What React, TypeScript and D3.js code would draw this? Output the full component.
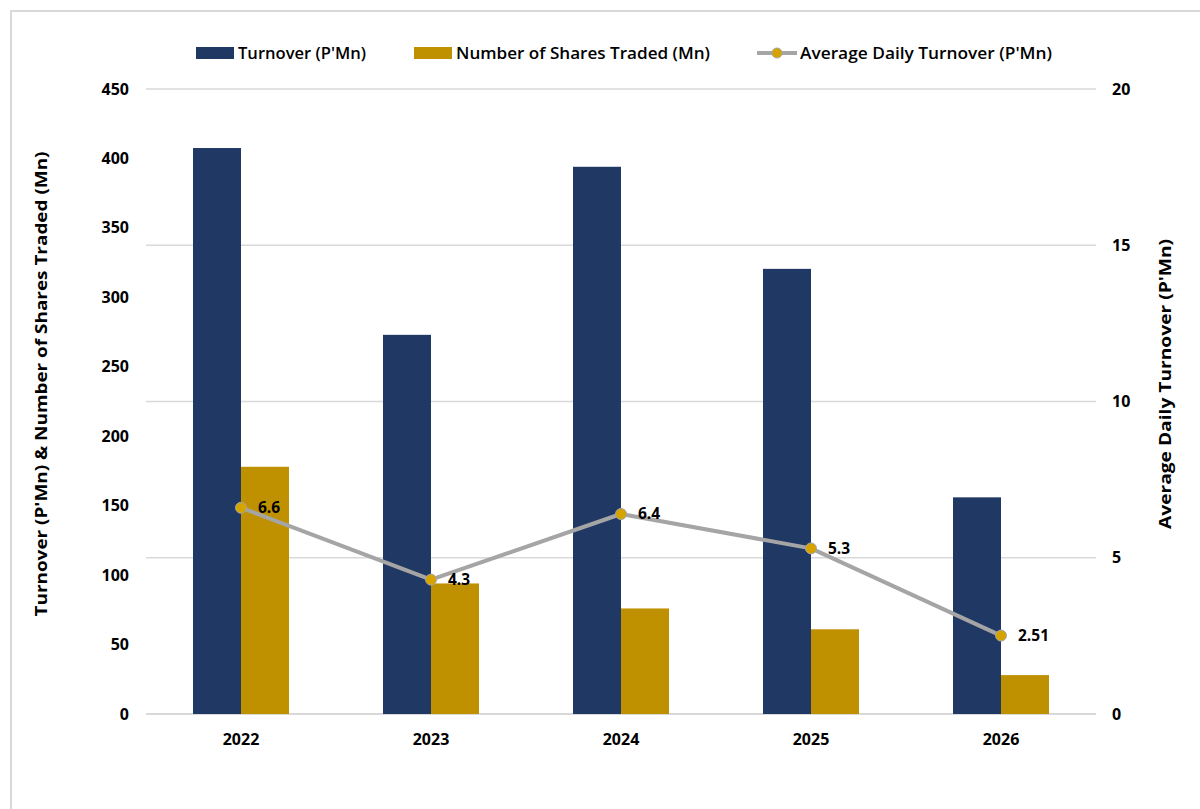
import React from 'react';
import * as d3 from 'd3';

const years = ['2022', '2023', '2024', '2025', '2026'];
const turnover = [407.5, 273, 394, 320.5, 156];
const sharesTraded = [178, 94, 76, 61, 28];
const avgDaily = [6.6, 4.3, 6.4, 5.3, 2.51];
const avgLabels = ['6.6', '4.3', '6.4', '5.3', '2.51'];
const leftTicks = [0, 50, 100, 150, 200, 250, 300, 350, 400, 450];
const rightTicks = [0, 5, 10, 15, 20];

const W = 1200,
  H = 809,
  left = 146,
  right = 1096,
  top = 89,
  bottom = 714;

const NAVY = '#203864',
  GOLD = '#BF9000',
  LINE = '#A5A5A5',
  DOT = '#D6A400',
  GRID = '#D9D9D9',
  FONT = '"Open Sans", Lato, sans-serif';

const x = d3.scaleBand().domain(years).range([left, right]);
const yL = d3.scaleLinear().domain([0, 450]).range([bottom, top]);
const yR = d3.scaleLinear().domain([0, 20]).range([bottom, top]);
const barW = 48;

const line = d3
  .line<number>()
  .x((_, i) => x(years[i])! + x.bandwidth() / 2)
  .y(d => yR(d));

export default function App() {
  return (
    <div style={{ position: 'fixed', left: 0, top: 0 }}>
      <svg width={W} height={H} style={{ display: 'block', background: '#fff' }} fontFamily={FONT}>
        {/* outer frame */}
        <path d={`M11,${H + 5}V11H${W + 5}`} fill="none" stroke={GRID} strokeWidth={2} />

        {/* gridlines */}
        {rightTicks.map(t => (
          <line key={t} x1={left} x2={right} y1={yR(t)} y2={yR(t)} stroke={GRID} strokeWidth={t === 0 ? 2 : 1.3} />
        ))}

        {/* bars */}
        {years.map((yr, i) => {
          const cx = x(yr)! + x.bandwidth() / 2;
          return (
            <g key={yr}>
              <rect x={cx - barW} y={yL(turnover[i])} width={barW} height={bottom - yL(turnover[i])} fill={NAVY} />
              <rect x={cx} y={yL(sharesTraded[i])} width={barW} height={bottom - yL(sharesTraded[i])} fill={GOLD} />
            </g>
          );
        })}

        {/* line */}
        <path d={line(avgDaily)!} fill="none" stroke={LINE} strokeWidth={4} strokeLinejoin="round" />
        {avgDaily.map((v, i) => {
          const cx = x(years[i])! + x.bandwidth() / 2;
          return (
            <g key={i}>
              <circle cx={cx} cy={yR(v)} r={5.5} fill={DOT} stroke={LINE} strokeWidth={1} />
              <text x={cx + 17} y={yR(v)} dy="0.35em" fontSize={15.5} fontWeight={700} fill="#000">
                {avgLabels[i]}
              </text>
            </g>
          );
        })}

        {/* left axis */}
        {leftTicks.map(t => (
          <text key={t} x={129} y={yL(t)} dy="0.35em" textAnchor="end" fontSize={16} fontWeight={700} fill="#000">
            {t}
          </text>
        ))}
        <text
          transform="translate(47,384) rotate(-90)"
          textAnchor="middle"
          fontSize={16}
          fontWeight={700}
          fill="#000"
          textLength={465}
          lengthAdjust="spacingAndGlyphs"
        >
          Turnover (P'Mn) &amp; Number of Shares Traded (Mn)
        </text>

        {/* right axis */}
        {rightTicks.map(t => (
          <text key={t} x={1112} y={yR(t)} dy="0.35em" textAnchor="start" fontSize={16} fontWeight={700} fill="#000">
            {t}
          </text>
        ))}
        <text
          transform="translate(1171,384) rotate(-90)"
          textAnchor="middle"
          fontSize={16}
          fontWeight={700}
          fill="#000"
          textLength={290}
          lengthAdjust="spacingAndGlyphs"
        >
          Average Daily Turnover (P'Mn)
        </text>

        {/* x axis labels */}
        {years.map(yr => (
          <text
            key={yr}
            x={x(yr)! + x.bandwidth() / 2}
            y={739}
            dy="0.35em"
            textAnchor="middle"
            fontSize={16}
            fontWeight={700}
            fill="#000"
          >
            {yr}
          </text>
        ))}

        {/* legend */}
        <g fontSize={16} fill="#000" fontWeight={600}>
          <rect x={196} y={47} width={38} height={12} fill={NAVY} />
          <text x={238} y={53} dy="0.35em" textLength={128} lengthAdjust="spacingAndGlyphs">Turnover (P'Mn)</text>
          <rect x={414} y={47} width={38} height={12} fill={GOLD} />
          <text x={456} y={53} dy="0.35em" textLength={254} lengthAdjust="spacingAndGlyphs">
            Number of Shares Traded (Mn)
          </text>
          <line x1={757} x2={797} y1={53} y2={53} stroke={LINE} strokeWidth={4} />
          <circle cx={777} cy={53} r={5} fill={DOT} stroke={LINE} strokeWidth={1} />
          <text x={800} y={53} dy="0.35em" textLength={252} lengthAdjust="spacingAndGlyphs">
            Average Daily Turnover (P'Mn)
          </text>
        </g>
      </svg>
    </div>
  );
}
